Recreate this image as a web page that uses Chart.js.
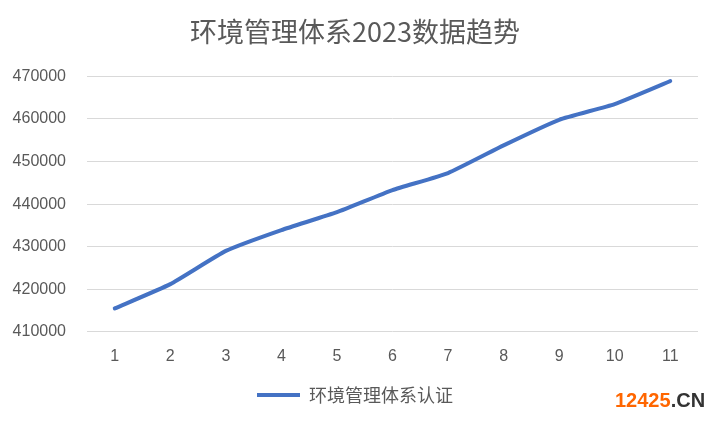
<!DOCTYPE html>
<html lang="zh">

<head>
    <meta charset="UTF-8">
    <title>环境管理体系2023数据趋势</title>
    <script src="https://cdn.jsdelivr.net/npm/chart.js"></script>
    <style>
        html, body {
            margin: 0;
            padding: 0;
            background: #ffffff;
        }

        #wrap {
            position: relative;
            width: 720px;
            height: 423px;
        }

        #mark {
            position: absolute;
            left: 615px;
            top: 390px;
            font-family: "Liberation Sans", Arial, sans-serif;
            font-weight: bold;
            font-size: 20px;
            line-height: 20px;
            color: #333333;
        }

        #mark span {
            color: #ff6600;
        }
    </style>
</head>

<body>
    <div id="wrap">
        <canvas id="trendChart" width="720" height="423"></canvas>
        <div id="mark"><span>12425</span>.CN</div>
    </div>

    <script>
        // data
        const labels = ['1', '2', '3', '4', '5', '6', '7', '8', '9', '10', '11'];
        const certValues = [415500, 421200, 429000, 433900, 438100, 443300, 447300, 453800, 459800, 463500, 468900];
        const seriesName = '环境管理体系认证';
        const chartTitle = '环境管理体系2023数据趋势';

        const grey = '#595959';
        const blue = '#4472c4';

        const ctx = document.getElementById('trendChart').getContext('2d');

        new Chart(ctx, {
            type: 'line',
            data: {
                labels: labels,
                datasets: [{
                    label: seriesName,
                    data: certValues,
                    borderColor: blue,
                    backgroundColor: blue,
                    borderWidth: 4,
                    borderCapStyle: 'round',
                    borderJoinStyle: 'round',
                    pointRadius: 0,
                    tension: 0.15,
                    fill: false
                }]
            },
            options: {
                responsive: false,
                animation: false,
                layout: {
                    padding: { left: 12, right: 22, top: 0, bottom: 9 }
                },
                plugins: {
                    title: {
                        display: true,
                        text: chartTitle,
                        color: grey,
                        font: { family: '"Noto Sans CJK SC", sans-serif', size: 27, weight: 'normal' },
                        padding: { top: 16, bottom: 28 }
                    },
                    legend: {
                        position: 'bottom',
                        labels: {
                            color: grey,
                            font: { family: '"Noto Sans CJK SC", sans-serif', size: 18 },
                            usePointStyle: true,
                            pointStyle: 'line',
                            pointStyleWidth: 43,
                            boxHeight: 4,
                            padding: 13
                        }
                    },
                    tooltip: { enabled: false }
                },
                scales: {
                    x: {
                        offset: true,
                        grid: { display: false },
                        border: { display: false },
                        ticks: {
                            color: grey,
                            padding: 7,
                            font: { family: '"Liberation Sans", sans-serif', size: 16 }
                        }
                    },
                    y: {
                        min: 410000,
                        max: 470000,
                        grid: { color: '#d9d9d9', lineWidth: 1, drawTicks: false },
                        border: { display: false },
                        ticks: {
                            stepSize: 10000,
                            color: grey,
                            padding: 21,
                            font: { family: '"Liberation Sans", sans-serif', size: 16 },
                            callback: v => String(v)
                        },
                        afterFit: scale => { scale.width = 75; }
                    }
                }
            }
        });
    </script>
</body>

</html>
